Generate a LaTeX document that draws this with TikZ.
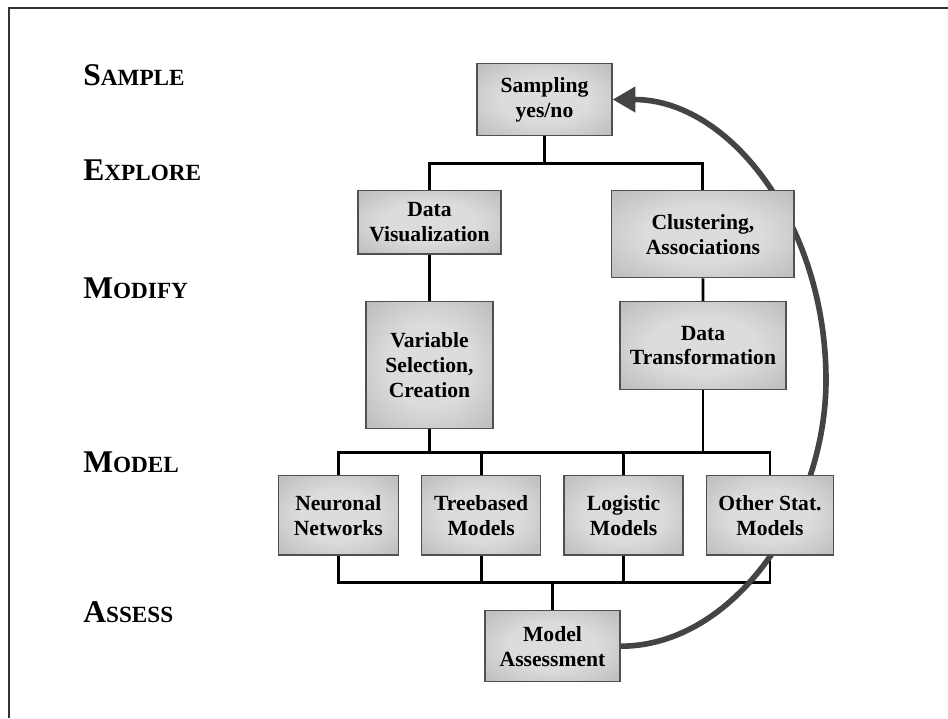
\documentclass[tikz,border=0pt]{standalone}
\usepackage{fontspec}
\setmainfont{Liberation Serif}
\usetikzlibrary{arrows.meta,backgrounds}

\definecolor{boxin}{HTML}{DCDCDC}
\definecolor{boxout}{HTML}{AEAEAE}
\definecolor{boxline}{HTML}{505050}
\definecolor{loopgray}{HTML}{444444}

% soft glow: light centre, darker rim
\pgfdeclareradialshading{boxglow}{\pgfpoint{0bp}{0bp}}{%
  color(0bp)=(boxin); color(16bp)=(boxin); color(44bp)=(boxout); color(50bp)=(boxout)}

% phase name in small capitals: large initial, smaller rest
\newcommand\stagename[2]{{\fontsize{18}{18}\selectfont #1}{\fontsize{13.2}{13.2}\selectfont #2}}

\begin{document}
\begin{tikzpicture}[x=0.02cm,y=-0.02cm,
  stepbox/.style 2 args={draw=boxline, line width=0.7pt, shade, shading=boxglow,
    inner sep=0pt, minimum width=#1*0.02cm, minimum height=#2*0.02cm,
    align=center, font=\fontsize{12.3}{14.2}\selectfont\bfseries},
  phase/.style={anchor=base west, inner sep=0pt, font=\bfseries},
  conn/.style={line width=1.6pt, draw=black},
  feedback/.style={line width=3.2pt, draw=loopgray,
    -{Triangle[length=13pt,width=14pt]}},
  frame/.style={line width=1.2pt, draw=black!80}]

\useasboundingbox (0,0) rectangle (948,718);
\draw[frame] (9,718) -- (9,8) -- (948,8);

% SEMMA phases
\node[phase] (psample) at (83,85)    {\stagename{S}{AMPLE}};
\node[phase] (pexplore) at (83,180)  {\stagename{E}{XPLORE}};
\node[phase] (pmodify) at (83,298)   {\stagename{M}{ODIFY}};
\node[phase] (pmodel) at (83,472)    {\stagename{M}{ODEL}};
\node[phase] (passess) at (83,622)   {\stagename{A}{SSESS}};

% process steps
\node[stepbox={135}{72.4}]   (samp) at (544.5,99.5)  {Sampling\\yes/no};
\node[stepbox={143}{63.3}]   (dv)   at (429.5,222.4) {Data\\Visualization};
\node[stepbox={182.3}{87}]   (ca)   at (702.9,234.2) {Clustering,\\Associations};
\node[stepbox={127}{126.6}]  (vs)   at (429.5,365)   {Variable\\Selection,\\Creation};
\node[stepbox={166}{87.6}]   (dt)   at (703,345.5)   {Data\\Transformation};
\node[stepbox={120}{79.3}]   (nn)   at (338.3,515.4) {Neuronal\\Networks};
\node[stepbox={119}{79.3}]   (tb)   at (481.2,515.4) {Treebased\\Models};
\node[stepbox={119}{79.3}]   (lm)   at (623.6,515.4) {Logistic\\Models};
\node[stepbox={126.6}{79.3}] (os)   at (770,515.4)   {Other Stat.\\Models};
\node[stepbox={135}{71}]     (ma)   at (552.5,646.2) {Model\\Assessment};

% junction points of the tree connectors
\coordinate (jtop) at (544.5,163.3);
\coordinate (jmod) at (429.5,452.3);
\coordinate (jass) at (552.5,582.7);
\coordinate (loopturn) at (826,380);

\begin{pgfonlayer}{background}
  % tree connectors
  \draw[conn] (samp.south) -- (jtop);
  \draw[conn] (dv.north) |- (jtop) -| (ca.north);
  \draw[conn] (dv.south) -- (vs.north);
  \draw[conn] (ca.south) -- (dt.north);
  \draw[conn] (vs.south) -- (jmod);
  \draw[conn] (dt.south) -- (dt.south |- jmod);
  \draw[conn] (nn.north) |- (jmod) -| (os.north);
  \draw[conn] (tb.north) -- (tb.north |- jmod);
  \draw[conn] (lm.north) -- (lm.north |- jmod);
  \draw[conn] (nn.south) |- (jass) -| (os.south);
  \draw[conn] (tb.south) -- (tb.south |- jass);
  \draw[conn] (lm.south) -- (lm.south |- jass);
  \draw[conn] (jass) -- (ma.north);
  % feedback loop from assessment back to sampling
  \draw[feedback] (ma.east) .. controls (735,646.2) and (826,510) .. (loopturn)
    .. controls (826,225) and (730,99.5) .. (samp.east);
\end{pgfonlayer}
\end{tikzpicture}
\end{document}
